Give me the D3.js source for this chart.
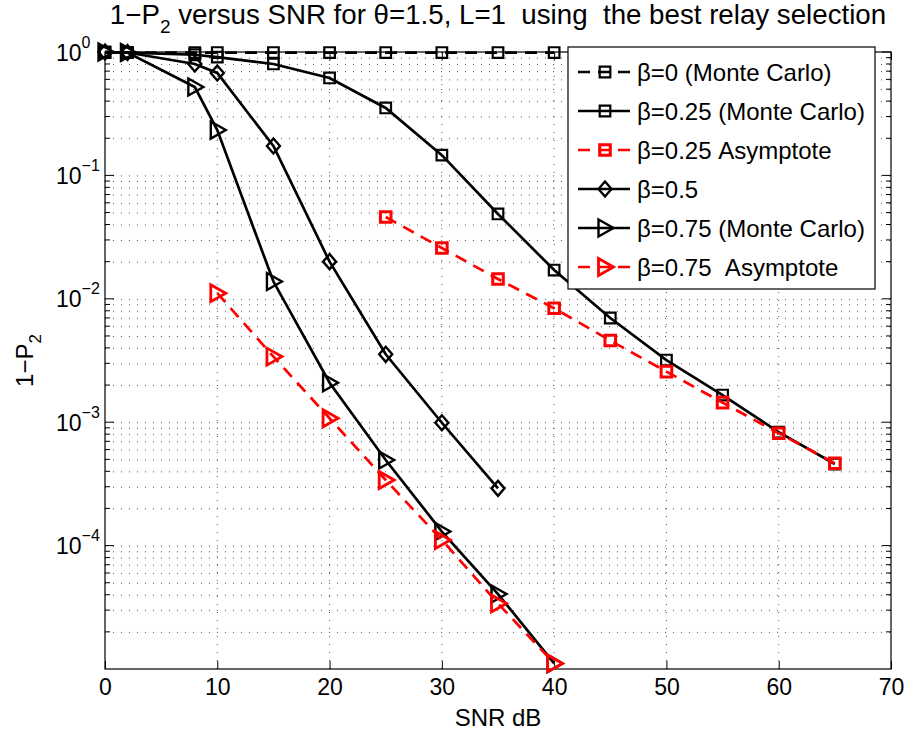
<!DOCTYPE html>
<html>
<head>
<meta charset="utf-8">
<script src="https://cdn.jsdelivr.net/npm/d3@7"></script>
<style>
  body { margin: 0; background: #fff; }
  svg text { font-family: "Liberation Sans", Arial, Helvetica, sans-serif; fill: #000; }
</style>
</head>
<body>
<svg id="chart"></svg>
<script>
// ---- data ----
const snrB0 = [0, 2, 8, 10, 15, 20, 25, 30, 35, 40];
const valB0 = [0.99, 0.99, 0.99, 0.99, 0.99, 0.99, 0.99, 0.99, 0.99, 0.99];

const snrB025 = [0, 2, 8, 10, 15, 20, 25, 30, 35, 40, 45, 50, 55, 60, 65];
const valB025 = [1, 0.99, 0.95, 0.91, 0.80, 0.616, 0.352, 0.146, 0.0487, 0.0171, 0.00699, 0.00319, 0.00166, 0.00083, 0.000458];

const snrB025Asym = [25, 30, 35, 40, 45, 50, 55, 60, 65];
const valB025Asym = [0.046, 0.0258, 0.01446, 0.00838, 0.00459, 0.00257, 0.00144, 0.000813, 0.000465];

const snrB05 = [0, 2, 8, 10, 15, 20, 25, 30, 35];
const valB05 = [1, 0.99, 0.80, 0.676, 0.173, 0.0200, 0.00355, 0.00099, 0.000291];

const snrB075 = [0, 2, 8, 10, 15, 20, 25, 30, 35, 40];
const valB075 = [1, 0.99, 0.52, 0.233, 0.0138, 0.00209, 0.000494, 0.00013, 4.05e-5, 1.11e-5];

const snrB075Asym = [10, 15, 20, 25, 30, 35, 40];
const valB075Asym = [0.0111, 0.0034, 0.001076, 0.00034, 0.000111, 3.4e-5, 1.11e-5];

const legendLabels = [
  "β=0 (Monte Carlo)",
  "β=0.25 (Monte Carlo)",
  "β=0.25 Asymptote",
  "β=0.5",
  "β=0.75 (Monte Carlo)",
  "β=0.75\u00a0 Asymptote"
];

const xTicks = [0, 10, 20, 30, 40, 50, 60, 70];
const yMajor = [1, 0.1, 0.01, 0.001, 0.0001];
const yExponents = ["0", "\u22121", "\u22122", "\u22123", "\u22124"];

// series table built from the arrays above
const series = [
  { label: legendLabels[0], x: snrB0, y: valB0, color: "#000", dash: "12,8", marker: "square", mw: 2.2 },
  { label: legendLabels[1], x: snrB025, y: valB025, color: "#000", dash: null, marker: "square", mw: 2.2 },
  { label: legendLabels[2], x: snrB025Asym, y: valB025Asym, color: "#ff0000", dash: "12,8", marker: "square", mw: 3 },
  { label: legendLabels[3], x: snrB05, y: valB05, color: "#000", dash: null, marker: "diamond", mw: 2.4 },
  { label: legendLabels[4], x: snrB075, y: valB075, color: "#000", dash: null, marker: "triangle", mw: 2.4 },
  { label: legendLabels[5], x: snrB075Asym, y: valB075Asym, color: "#ff0000", dash: "12,8", marker: "triangle", mw: 2.8 }
];

const width = 905, height = 731;
const margin = { top: 52, right: 14, bottom: 62, left: 105 };

const svg = d3.select("#chart")
  .attr("width", width)
  .attr("height", height);

const xScale = d3.scaleLinear()
  .domain([0, 70])
  .range([margin.left, width - margin.right]);

const yScale = d3.scaleLog()
  .domain([1e-5, 1])
  .range([height - margin.bottom, margin.top]);

const x0 = xScale.range()[0], x1 = xScale.range()[1];
const yB = yScale.range()[0], yT = yScale.range()[1];

// minor y positions (2..9 in every decade)
const yMinor = [];
[1e-5, 1e-4, 1e-3, 1e-2, 1e-1].forEach(d => d3.range(2, 10).forEach(k => yMinor.push(d * k)));

// ---- grid ----
const grid = svg.append("g").attr("class", "grid")
  .attr("stroke", "#555")
  .attr("stroke-width", 1)
  .attr("stroke-dasharray", "1,7");

grid.selectAll(".gx")
  .data(xTicks.slice(1, -1))
  .enter().append("line")
  .attr("x1", d => xScale(d)).attr("x2", d => xScale(d))
  .attr("y1", yB).attr("y2", yT);

grid.selectAll(".gy")
  .data(yMajor.slice(1).concat(yMinor))
  .enter().append("line")
  .attr("x1", x0).attr("x2", x1)
  .attr("y1", d => yScale(d) + 0.5).attr("y2", d => yScale(d) + 0.5);

// ---- axes ----
const xAxis = d3.axisBottom(xScale)
  .tickValues(xTicks)
  .tickSizeInner(-8)
  .tickSizeOuter(0)
  .tickPadding(10);

const xAxisGroup = svg.append("g")
  .attr("class", "x-axis")
  .attr("transform", `translate(0,${yB})`)
  .call(xAxis);

xAxisGroup.select(".domain").remove();
xAxisGroup.selectAll("line").attr("stroke", "#000");
xAxisGroup.selectAll("text")
  .style("font-size", "23px")
  .style("font-family", "\"Liberation Sans\", Arial, sans-serif");

// top ticks
svg.append("g")
  .attr("transform", `translate(0,${yT})`)
  .call(d3.axisTop(xScale).tickValues(xTicks).tickSizeInner(-8).tickSizeOuter(0).tickFormat(""))
  .call(g => g.select(".domain").remove());

// y ticks, both sides
const yTickG = svg.append("g").attr("class", "y-ticks").attr("stroke", "#000").attr("stroke-width", 1);
[[x0, 1], [x1, -1]].forEach(([xp, dir]) => {
  yTickG.selectAll(null)
    .data(yMajor)
    .enter().append("line")
    .attr("x1", xp).attr("x2", xp + dir * 9)
    .attr("y1", d => yScale(d)).attr("y2", d => yScale(d));
  yTickG.selectAll(null)
    .data(yMinor)
    .enter().append("line")
    .attr("x1", xp).attr("x2", xp + dir * 5)
    .attr("y1", d => yScale(d)).attr("y2", d => yScale(d));
});

// y tick labels 10^k
const yLab = svg.append("g").attr("class", "y-labels");
yMajor.forEach((d, i) => {
  const t = yLab.append("text")
    .attr("x", x0 - 49)
    .attr("y", yScale(d) + 8.5);
  t.append("tspan").style("font-size", "23px").text("10");
  t.append("tspan").style("font-size", "16px").attr("dy", -13).text(yExponents[i]);
});

// plot frame
svg.append("rect")
  .attr("x", x0).attr("y", yT)
  .attr("width", x1 - x0).attr("height", yB - yT)
  .attr("fill", "none")
  .attr("stroke", "#000")
  .attr("stroke-width", 1.2);

// ---- markers ----
const markerPath = (type) => {
  if (type === "square") return "M-5.3,-5.3H5.3V5.3H-5.3Z";
  if (type === "diamond") return "M0,-7.5L6.5,0L0,7.5L-6.5,0Z";
  return "M-6.5,-8.5L8.5,0L-6.5,8.5Z"; // right-pointing triangle
};

const line = d3.line()
  .x(d => xScale(d[0]))
  .y(d => yScale(d[1]));

const plot = svg.append("g").attr("class", "series");

series.forEach(s => {
  const pts = s.x.map((v, i) => [v, s.y[i]]);
  const g = plot.append("g");
  g.append("path")
    .datum(pts)
    .attr("fill", "none")
    .attr("stroke", s.color)
    .attr("stroke-width", 2.7)
    .attr("stroke-dasharray", s.dash)
    .attr("d", line);
  g.selectAll("path.m")
    .data(pts)
    .enter().append("path")
    .attr("class", "m")
    .attr("transform", d => `translate(${xScale(d[0])},${yScale(d[1])})`)
    .attr("d", markerPath(s.marker))
    .attr("fill", "none")
    .attr("stroke", s.color)
    .attr("stroke-width", s.mw);
});

// ---- legend ----
const legend = svg.append("g").attr("class", "legend");
legend.append("rect")
  .attr("x", 568).attr("y", 47)
  .attr("width", 307).attr("height", 242)
  .attr("fill", "#fff")
  .attr("stroke", "#000")
  .attr("stroke-width", 1.2);

const legendItems = legend.selectAll(".legend-item")
  .data(series)
  .enter().append("g")
  .attr("class", "legend-item")
  .attr("transform", (d, i) => `translate(578, ${72 + i * 39})`);

legendItems.append("line")
  .attr("x1", 0).attr("x2", 52)
  .attr("stroke", d => d.color)
  .attr("stroke-width", 2.7)
  .attr("stroke-dasharray", d => d.dash);

legendItems.append("path")
  .attr("transform", "translate(27,0)")
  .attr("d", d => markerPath(d.marker))
  .attr("fill", "none")
  .attr("stroke", d => d.color)
  .attr("stroke-width", d => d.mw);

legendItems.append("text")
  .attr("x", 59)
  .attr("y", 8.5)
  .style("font-size", "24px")
  .text(d => d.label);

// ---- titles ----
const title = svg.append("text")
  .attr("x", (x0 + x1) / 2)
  .attr("y", 24)
  .attr("text-anchor", "middle")
  .style("font-size", "27.7px");
title.append("tspan").text("1\u2212P");
title.append("tspan").style("font-size", "19px").attr("dy", 9).text("2");
title.append("tspan").attr("dy", -9).text(" versus SNR for θ=1.5, L=1\u00a0 using\u00a0 the best relay selection");

svg.append("text")
  .attr("x", (x0 + x1) / 2)
  .attr("y", 726)
  .attr("text-anchor", "middle")
  .style("font-size", "24px")
  .text("SNR dB");

const yTitle = svg.append("text")
  .attr("transform", `translate(33,${(yT + yB) / 2}) rotate(-90)`)
  .attr("text-anchor", "middle")
  .style("font-size", "24px");
yTitle.append("tspan").text("1\u2212P");
yTitle.append("tspan").style("font-size", "17px").attr("dy", 8).text("2");
</script>
</body>
</html>
